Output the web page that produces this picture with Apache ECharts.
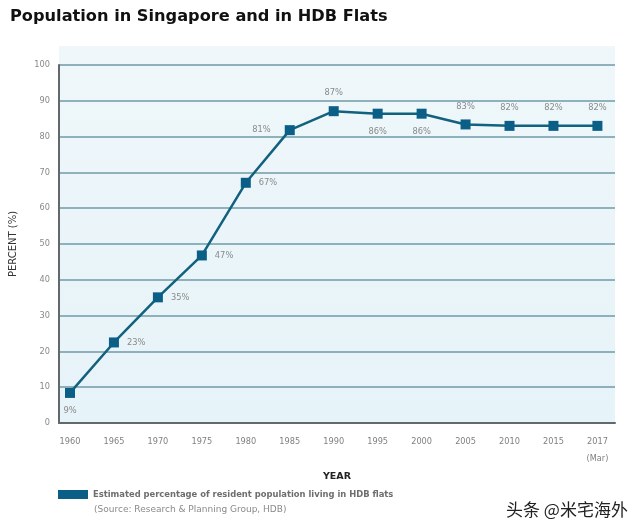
<!DOCTYPE html>
<html><head><meta charset="utf-8">
<script src="https://cdn.jsdelivr.net/npm/echarts@6/dist/echarts.min.js"></script>
<style>html,body{margin:0;padding:0;background:#fff}#c{width:640px;height:530px}</style>
</head><body><div id="c"></div>
<script>
var years = ['1960','1965','1970','1975','1980','1985','1990','1995','2000','2005','2010','2015','2017\n(Mar)'];
var values = [8.4, 22.5, 35.1, 46.8, 67.1, 81.8, 87.1, 86.4, 86.4, 83.4, 83.0, 83.0, 83.0];
var valueLabels = ['9%','23%','35%','47%','67%','81%','87%','86%','86%','83%','82%','82%','82%'];
var yTicks = [0,10,20,30,40,50,60,70,80,90,100];
var seriesName = 'Estimated percentage of resident population living in HDB flats';
var sourceText = '(Source: Research & Planning Group, HDB)';

var labelPlace = ['bottom','right','right','right','right','left','top','bottom','bottom','top','top','top','top'];

var chart = echarts.init(document.getElementById('c'), null, {renderer:'canvas'});
var data = values.map(function(v,i){
  var p = labelPlace[i];
  return {
    value:[i,v],
    label:{show:true, position:p, distance: p==='left'?14:(p==='right'?8:9),
      formatter: valueLabels[i]}
  };
});
chart.setOption({
  animation:false,
  title:[{
    text:'Population in Singapore and in HDB Flats',
    left:5, top:4,
    textStyle:{fontFamily:'DejaVu Sans', fontWeight:'bold', fontSize:16.2, color:'#111'}
  },{
    text:sourceText, left:89, top:500,
    textStyle:{fontFamily:'DejaVu Sans', fontWeight:'normal', fontSize:9, color:'#8a8a8a'}
  },{
    text:'头条 @米宅海外', left:501, top:496,
    textStyle:{fontFamily:'Noto Sans CJK SC', fontWeight:'normal', fontSize:17, color:'#222',
      textBorderColor:'#fff', textBorderWidth:1}
  }],
  legend:{
    left:53, top:485, itemWidth:30, itemHeight:9, itemGap:6,
    icon:'rect',
    textStyle:{fontFamily:'DejaVu Sans', fontWeight:'bold', fontSize:8.4, color:'#6e6e6e', padding:[1,0,0,0]},
    data:[{name:seriesName, itemStyle:{color:'#0b5f87'}}]
  },
  graphic:[{
    type:'rect', z:-10, silent:true,
    shape:{x:59, y:46, width:556, height:377},
    style:{fill:{type:'linear',x:0,y:0,x2:0,y2:1,colorStops:[{offset:0,color:'#eff7fa'},{offset:1,color:'#e6f3f8'}]}}
  }],
  grid:{left:59, right:25, top:65, bottom:107, containLabel:false},
  xAxis:{
    type:'value', min:-0.25, max:12.4,
    name:'YEAR', nameLocation:'middle', nameGap:42,
    nameTextStyle:{fontFamily:'DejaVu Sans', fontWeight:'bold', fontSize:9.5, color:'#222'},
    axisLine:{show:true, onZero:false, lineStyle:{color:'#62686c', width:2}},
    axisTick:{show:false},
    splitLine:{show:false},
    axisLabel:{
      customValues:[0,1,2,3,4,5,6,7,8,9,10,11,12],
      formatter:function(v){return years[Math.round(v)];},
      margin:10, lineHeight:17, verticalAlign:'top',
      fontFamily:'DejaVu Sans', fontSize:8.2, color:'#808080'
    }
  },
  yAxis:{
    type:'value', min:0, max:100, interval:10,
    name:'PERCENT (%)', nameLocation:'middle', nameGap:41, nameRotate:90,
    nameTextStyle:{fontFamily:'DejaVu Sans', fontSize:10, color:'#333'},
    axisLine:{show:true, onZero:false, lineStyle:{color:'#62686c', width:2}},
    axisTick:{show:false},
    axisLabel:{
      customValues:yTicks,
      margin:9, fontFamily:'DejaVu Sans', fontSize:8.2, color:'#888'
    },
    splitLine:{show:true, lineStyle:{color:'#6f9aa6', width:1.5}}
  },
  series:[{
    name:seriesName, type:'line', data:data,
    symbol:'rect', symbolSize:10,
    lineStyle:{color:'#11617f', width:2.5},
    itemStyle:{color:'#0b5f87'},
    label:{fontFamily:'DejaVu Sans', fontSize:8.3, color:'#8a8a8a'},
    z:5
  }]
});
</script>
</body></html>
